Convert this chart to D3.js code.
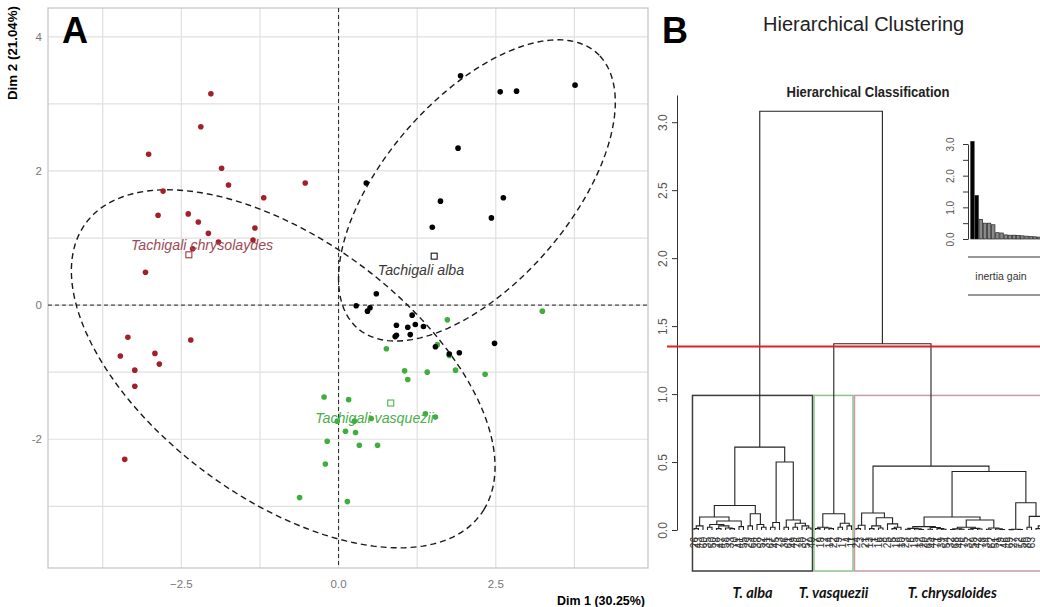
<!DOCTYPE html>
<html>
<head>
<meta charset="utf-8">
<script src="https://cdn.jsdelivr.net/npm/d3@7"></script>
<style>
body{margin:0;background:#fff}
svg{display:block;font-family:"Liberation Sans",Arial,sans-serif}
</style>
</head>
<body>
<svg width="1040" height="607"></svg>
<script>
/********** panel A: PCA individuals **********/
const redPts=[[-2.03,3.15],[-2.19,2.66],[-3.02,2.25],[-1.86,2.04],[-1.75,1.79],[-0.53,1.82],[-2.79,1.70],
  [-1.19,1.60],[-2.87,1.34],[-2.39,1.36],[-2.23,1.24],[-2.07,1.07],[-1.33,1.15],[-1.36,0.97],[-1.91,0.94],
  [-2.32,0.84],[-3.07,0.49],[-3.35,-0.48],[-2.35,-0.52],[-3.47,-0.76],[-2.92,-0.72],[-2.85,-0.88],
  [-3.24,-0.97],[-3.24,-1.21],[-3.40,-2.30]]
const blackPts=[[1.94,3.42],[2.57,3.18],[2.83,3.19],[3.76,3.28],[1.90,2.34],[0.44,1.82],[1.62,1.55],
  [2.62,1.60],[2.43,1.30],[1.49,1.16],[0.60,0.17],[0.28,-0.01],[0.50,-0.04],[0.46,-0.09],[1.17,-0.15],
  [0.92,-0.30],[1.22,-0.29],[1.10,-0.33],[1.35,-0.32],[0.90,-0.47],[0.92,-0.45],[1.14,-0.44],[1.54,-0.62],
  [1.76,-0.73],[1.92,-0.71],[2.48,-0.57]]
const greenPts=[[-0.23,-1.37],[-0.02,-1.73],[-0.18,-2.03],[-0.21,-2.37],[-0.62,-2.87],[3.24,-0.09],
  [1.73,-0.22],[0.76,-0.65],[1.57,-0.59],[1.76,-0.75],[1.05,-0.98],[1.10,-1.11],[1.41,-1.00],[1.86,-0.97],
  [2.33,-1.03],[0.16,-1.41],[1.38,-1.62],[1.54,-1.67],[0.25,-1.73],[0.52,-1.69],[0.11,-1.88],[0.27,-1.90],
  [0.33,-2.09],[0.62,-2.09],[0.14,-2.93]]

const groupNames=['Tachigali chrysolaydes','Tachigali alba','Tachigali vasquezii']
const groupColors=['#a3202a','#000000','#3fae3f']
const labelColors=['#9b4a55','#3a3a3a','#4aae4a']
const centroids=[[-2.38,0.75],[1.52,0.73],[0.83,-1.46]]
const labelPos=[[-2.17,0.90],[1.31,0.52],[0.57,-1.68]]
// concentration ellipses: centre x, centre y, semi-axis a, semi-axis b, angle (deg)
const ellipses=[[-0.88,-0.95,3.82,1.97,-33.4],[2.2,1.71,2.8,1.43,46]]

const xTicks=[-2.5,0,2.5]
const yTicks=[-2,0,2,4]
const xGrid=[-3.75,-2.5,-1.25,0,1.25,2.5,3.75]
const yGrid=[-3,-2,-1,0,1,2,3,4]

/********** panel B: hierarchical clustering **********/
const leafLabels=['26','43','60','35','50','28','47','58','33','70','41','55','29','64','38','52','31','67',
  '45','73','36','61','49','76','30','57','40',
  '7','19','2','14','22','9','17','4','11',
  '24','3','21','13','1','16','8','25','5','18','10','23','6','15','12','20','65','44','71','39','54','32',
  '68','48','75','37','59','42','78','34','62','51','79','46','69','27','72','56','80','63','74','53','77','66']

// nodes: [height, left, right]; leaves: index into leafLabels
const albaTree=[0.61,
  [0.18,
    [0.096,[0.03,[0.01,0,1],2],
      [0.066,[0.04,[0.02,3,4],[0.03,[0.01,5,6],[0.015,7,[0.01,8,9]]]],[0.025,10,11]]],
    [0.12,[0.03,12,13],[0.04,14,[0.02,15,16]]]],
  [0.50,
    [0.055,[0.02,17,18],19],
    [0.074,[0.02,20,21],[0.05,[0.02,22,23],[0.03,24,[0.015,25,26]]]]]]
const vasqTree=[0.12,[0.02,[0.01,27,28],[0.015,29,[0.01,30,31]]],[0.05,[0.02,32,33],[0.03,34,35]]]
const chryTree=[0.47,
  [0.125,[0.035,[0.01,36,37],38],
    [0.09,[0.03,[0.01,39,40],[0.015,41,42]],[0.045,43,[0.02,[0.01,44,45],46]]]],
  [0.43,
    [0.096,
      [0.025,[0.012,[0.005,47,48],[0.008,49,[0.004,50,51]]],[0.018,[0.006,52,53],[0.01,54,[0.005,55,56]]]],
      [0.074,[0.02,[0.008,[0.004,57,58],[0.005,59,60]],[0.012,[0.005,61,62],[0.007,63,64]]],
             [0.015,[0.005,65,66],[0.008,67,[0.004,68,69]]]]],
    [0.2,
      [0.006,[0.003,70,71],[0.004,72,73]],
      [0.1,[0.02,74,75],[0.03,[0.01,76,77],[0.015,78,79]]]]]]
const tree=[3.08,albaTree,[1.37,vasqTree,chryTree]]

const clusterSizes=[27,9,44]
const clusterNames=['T. alba','T. vasquezii','T. chrysaloides']
const clusterColors=['#3c3c3c','#8cc48c','#c99aa4']
const cutHeight=1.35
const heightTicks=[0,0.5,1,1.5,2,2.5,3]

const inertiaGain=[3.08,1.37,0.62,0.50,0.50,0.45,0.20,0.19,0.13,0.12,0.12,0.11,0.10,0.09,0.08,0.07,0.06,0.06]
const gainTicks=[0,0.5,1,1.5,2,2.5,3]

const svg=d3.select('svg')
svg.append('rect').attr('width',1040).attr('height',607).attr('fill','#fff')

/*================ panel A ================*/
const x=d3.scaleLinear().domain([-4.62,4.92]).range([48,648])
const y=d3.scaleLinear().domain([-3.92,4.43]).range([568,8])
const gA=svg.append('g')

gA.selectAll('.gx').data(xGrid).join('line')
  .attr('x1',d=>x(d)).attr('x2',d=>x(d)).attr('y1',y.range()[0]).attr('y2',y.range()[1])
  .attr('stroke','#e0e0e0').attr('stroke-width',1.2)
gA.selectAll('.gy').data(yGrid).join('line')
  .attr('y1',d=>y(d)).attr('y2',d=>y(d)).attr('x1',x.range()[0]).attr('x2',x.range()[1])
  .attr('stroke','#e0e0e0').attr('stroke-width',1.2)
gA.append('rect').attr('x',48).attr('y',8).attr('width',600).attr('height',560)
  .attr('fill','none').attr('stroke','#c4c4c4').attr('stroke-width',1.2)

// zero lines
gA.append('line').attr('x1',x(0)).attr('x2',x(0)).attr('y1',8).attr('y2',568)
  .attr('stroke','#222').attr('stroke-dasharray','4,3')
gA.append('line').attr('y1',y(0)).attr('y2',y(0)).attr('x1',48).attr('x2',648)
  .attr('stroke','#222').attr('stroke-dasharray','4,3')

// tick labels
gA.selectAll('.tx').data(xTicks).join('text')
  .attr('x',d=>x(d)).attr('y',588).attr('text-anchor','middle')
  .attr('font-size',11.5).attr('fill','#777').text(d3.format('.1f'))
gA.selectAll('.ty').data(yTicks).join('text')
  .attr('x',42).attr('y',d=>y(d)).attr('dy','0.35em').attr('text-anchor','end')
  .attr('font-size',11.5).attr('fill','#777').text(d=>d)

// ellipses
const ellPts=e=>d3.range(0,362,2).map(t=>{
  const a=t*Math.PI/180, r=e[4]*Math.PI/180
  const u=e[2]*Math.cos(a), v=e[3]*Math.sin(a)
  return [e[0]+u*Math.cos(r)-v*Math.sin(r), e[1]+u*Math.sin(r)+v*Math.cos(r)]
})
const line=d3.line().x(d=>x(d[0])).y(d=>y(d[1]))
gA.selectAll('.ell').data(ellipses).join('path')
  .attr('d',d=>line(ellPts(d))).attr('fill','none')
  .attr('stroke','#1a1a1a').attr('stroke-width',1.4).attr('stroke-dasharray','6,4')

// points
const groups=[[redPts,0],[greenPts,2],[blackPts,1]]
groups.forEach(([pts,i])=>{
  gA.selectAll('.p'+i).data(pts).join('circle')
    .attr('cx',d=>x(d[0])).attr('cy',d=>y(d[1])).attr('r',2.8)
    .attr('fill',groupColors[i])
})
gA.selectAll('.ctr').data(centroids).join('rect')
  .attr('x',d=>x(d[0])-3).attr('y',d=>y(d[1])-3).attr('width',6).attr('height',6)
  .attr('fill','#fff').attr('stroke',(d,i)=>groupColors[i]).attr('stroke-width',1)
gA.selectAll('.lab').data(labelPos).join('text')
  .attr('x',d=>x(d[0])).attr('y',d=>y(d[1])).attr('dy','0.35em')
  .attr('text-anchor','middle').attr('font-size',14.2).attr('font-style','italic')
  .attr('fill',(d,i)=>labelColors[i]).text((d,i)=>groupNames[i])

gA.append('text').attr('x',62).attr('y',43).attr('font-size',36).attr('font-weight','bold').text('A')
gA.append('text').attr('transform','translate(17,53) rotate(-90)').attr('text-anchor','middle')
  .attr('font-size',13).attr('font-weight','bold')
  .attr('font-family','"Liberation Sans Narrow","Arial Narrow","Liberation Sans",sans-serif')
  .attr('textLength',94).attr('lengthAdjust','spacingAndGlyphs').text('Dim 2 (21.04%)')
gA.append('text').attr('x',645).attr('y',605).attr('text-anchor','end')
  .attr('font-size',13).attr('font-weight','bold')
  .attr('font-family','"Liberation Sans Narrow","Arial Narrow","Liberation Sans",sans-serif')
  .attr('textLength',88).attr('lengthAdjust','spacingAndGlyphs').text('Dim 1 (30.25%)')

/*================ panel B ================*/
const gB=svg.append('g')
gB.append('text').attr('x',662).attr('y',43).attr('font-size',36).attr('font-weight','bold').text('B')
gB.append('text').attr('x',763).attr('y',31).attr('font-size',20).attr('fill','#222').text('Hierarchical Clustering')
gB.append('text').attr('x',868).attr('y',97).attr('text-anchor','middle')
  .attr('font-size',15).attr('font-weight','bold').attr('fill','#222')
  .attr('font-family','"Liberation Sans Narrow","Arial Narrow","Liberation Sans",sans-serif')
  .attr('textLength',163).attr('lengthAdjust','spacingAndGlyphs').text('Hierarchical Classification')

const nLeaves=leafLabels.length
const lx=d3.scaleLinear().domain([0,nLeaves-1]).range([694,694+(nLeaves-1)*4.5])
const hy=d3.scaleLinear().domain([0,3.2]).range([530,95])

const root=d3.hierarchy(tree,d=>Array.isArray(d)?[d[1],d[2]]:null)
root.eachAfter(n=>{
  n.px=n.children?(n.children[0].px+n.children[1].px)/2:lx(n.data)
  n.ht=n.children?n.data[0]:0
})

// cluster rectangles (rect.hclust style)
let start=0
const boxes=clusterSizes.map((s,i)=>{
  const b={l:lx(start-0.34),r:lx(start+s-0.67),i}
  start+=s
  return b
})
const boxTop=hy((1.37+0.61)/2)
gB.selectAll('.box').data(boxes).join('rect')
  .attr('x',d=>d.l).attr('y',boxTop).attr('width',d=>d.r-d.l).attr('height',571-boxTop)
  .attr('fill','none').attr('stroke',d=>clusterColors[d.i]).attr('stroke-width',1.5)
gB.selectAll('.cname').data(boxes).join('text')
  .attr('x',d=>(d.l+Math.min(d.r,1050))/2).attr('y',598).attr('text-anchor','middle')
  .attr('font-family','Lato,"Open Sans",sans-serif').attr('font-size',14.5)
  .attr('font-weight','bold').attr('font-style','italic').attr('fill','#111')
  .text(d=>clusterNames[d.i])

// dendrogram segments
gB.selectAll('.seg').data(root.descendants().filter(n=>n.children)).join('path')
  .attr('d',n=>{
    const [a,b]=n.children
    return `M${a.px},${hy(a.ht)}V${hy(n.ht)}H${b.px}V${hy(b.ht)}`
  })
  .attr('fill','none').attr('stroke','#222').attr('stroke-width',1.1)

// leaf labels (those past the right edge of the figure are cut off, as in the original crop)
gB.selectAll('.leaf').data(root.leaves().filter(n=>n.px<1034)).join('text')
  .attr('transform',n=>`translate(${n.px+3.5},537) rotate(-90)`)
  .attr('text-anchor','end').attr('font-size',10).attr('fill','#333')
  .text(n=>leafLabels[n.data])

// height axis
const axB=gB.append('g').attr('transform','translate(677,0)')
  .call(d3.axisLeft(hy).tickValues(heightTicks).tickFormat(d3.format('.1f')).tickSize(5).tickSizeOuter(0))
axB.select('.domain').attr('stroke','#333')
axB.selectAll('.tick line').attr('stroke','#333')
axB.selectAll('.tick text').attr('transform','rotate(-90)').attr('x',0).attr('y',-10).attr('dy',0)
  .attr('text-anchor','middle').attr('font-size',12).attr('fill','#555')
  .attr('font-family','"Liberation Sans",Arial,sans-serif')

// cut line
gB.append('line').attr('x1',667).attr('x2',1040).attr('y1',hy(cutHeight)).attr('y2',hy(cutHeight))
  .attr('stroke','#dd2222').attr('stroke-width',2)

// inertia gain inset
const gy=d3.scaleLinear().domain([0,3]).range([239,144])
const gx=d3.scaleBand().domain(d3.range(inertiaGain.length)).range([970,970+inertiaGain.length*4.2]).padding(0.18)
gB.selectAll('.bar').data(inertiaGain).join('rect')
  .attr('x',(d,i)=>gx(i)).attr('width',gx.bandwidth())
  .attr('y',d=>gy(d)).attr('height',d=>gy(0)-gy(d))
  .attr('fill',(d,i)=>i<2?'#000':'#8a8a8a').attr('stroke','#222').attr('stroke-width',0.7)
const axG=gB.append('g').attr('transform','translate(968,0)')
  .call(d3.axisLeft(gy).tickValues(gainTicks).tickFormat(d=>d%1===0?d3.format('.1f')(d):'').tickSize(5).tickSizeOuter(0))
axG.select('.domain').attr('stroke','#333')
axG.selectAll('.tick line').attr('stroke','#333')
axG.selectAll('.tick text').attr('transform','rotate(-90)').attr('x',0).attr('y',-14).attr('dy',0)
  .attr('text-anchor','middle').attr('font-size',10).attr('fill','#555')
  .attr('font-family','"Liberation Sans",Arial,sans-serif')
gB.selectAll('.lgl').data([257,295]).join('line')
  .attr('x1',968).attr('x2',1040).attr('y1',d=>d).attr('y2',d=>d).attr('stroke','#333')
gB.append('text').attr('x',1001).attr('y',280).attr('text-anchor','middle')
  .attr('font-size',10.5).attr('fill','#333').text('inertia gain')
</script>
</body>
</html>
